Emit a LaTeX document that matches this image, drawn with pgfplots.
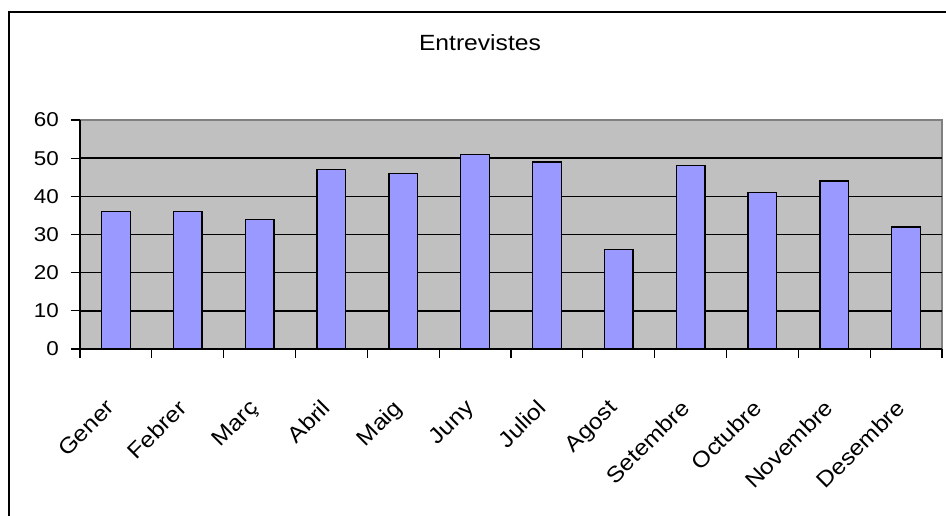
\documentclass[border=0pt]{standalone}
\usepackage{fontspec}
\setmainfont{Liberation Sans}
\newfontfamily\lab[FakeStretch=1.12]{Liberation Sans}
\usepackage{pgfplots}
\pgfplotsset{compat=1.18}
\definecolor{plotbg}{RGB}{192,192,192}
\definecolor{barc}{RGB}{153,153,255}
\definecolor{bord}{RGB}{128,128,128}
\begin{document}
\begin{tikzpicture}
\path[use as bounding box] (0pt,0pt) rectangle (946pt,515pt);
\draw[line width=2pt] (9pt,-5pt) -- (9pt,503pt) -- (951pt,503pt);
\begin{axis}[
  at={(80pt,166pt)}, anchor=south west,
  scale only axis, width=862pt, height=229pt,
  xmin=0, xmax=12, ymin=0, ymax=60,
  axis background/.style={fill=plotbg, draw=bord, line width=1.2pt},
  axis lines=left,
  axis line style={-, black, line width=2pt},
  tick align=outside,
  xtick={0.5,1.5,...,11.5},
  xticklabels={Gener,Febrer,Març,Abril,Maig,Juny,Juliol,Agost,Setembre,Octubre,Novembre,Desembre},
  major x tick style={draw=none},
  minor xtick={0,1,...,12},
  minor x tick style={black, line width=1.3pt},
  minor tick length=9pt,
  major tick length=9pt,
  xticklabel style={font=\fontsize{22}{24}\lab, inner sep=0pt, yshift=-40pt, xshift=-11pt, rotate=45, anchor=north east},
  ytick={0,10,...,60},
  y tick style={black, line width=1.3pt},
  yticklabel style={font=\fontsize{20}{22}\lab, inner sep=0pt, anchor=east, xshift=-12pt},
  /pgf/number format/assume math mode=true,
  extra y ticks={10,20,30,40,50},
  extra y tick labels={},
  extra y tick style={grid=major, major grid style={black, line width=1.6pt}},
  title={\fontsize{22}{24}\lab Entrevistes},
  title style={at={(0.464,1)}, anchor=center, yshift=71pt},
]
\addplot[ybar, bar width=0.4, fill=barc, draw=black, line width=1.3pt] coordinates {
  (0.5,36) (1.5,36) (2.5,34) (3.5,47) (4.5,46) (5.5,51)
  (6.5,49) (7.5,26) (8.5,48) (9.5,41) (10.5,44) (11.5,32)
};
\end{axis}
\end{tikzpicture}
\end{document}
